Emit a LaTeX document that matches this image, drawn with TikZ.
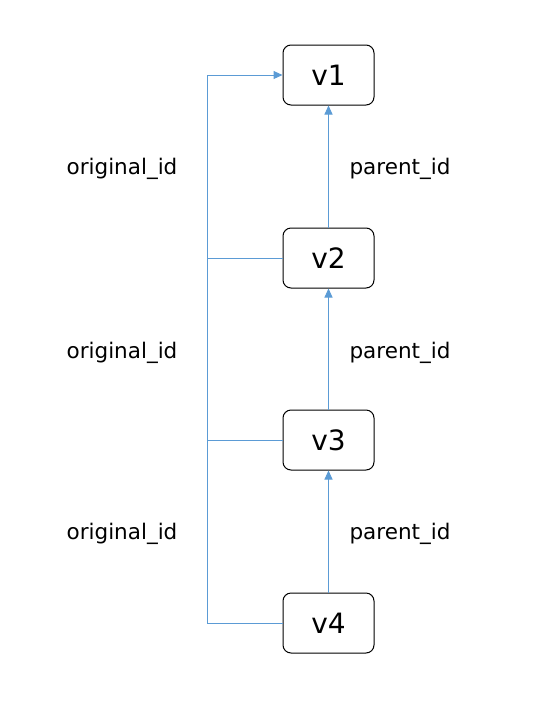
\documentclass[tikz,border=0pt]{standalone}
\usepackage{fontspec}
\setmainfont{DejaVu Sans}
\usetikzlibrary{arrows.meta, positioning}
\definecolor{linkblue}{RGB}{91,155,213}
\tikzset{
    vertex box/.style={
        draw,line width=1pt,rounded corners=8pt,
        minimum width=91pt,minimum height=60pt,
        inner sep=0pt,
        font=\fontsize{28}{30}\selectfont
    },
    id label/.style={
        font=\fontsize{21.5}{24}\selectfont
    },
    link/.style={linkblue,line width=1pt},
    >={Triangle[length=9pt,width=8pt]},
}

\begin{document}
\begin{tikzpicture}[x=1pt,y=-1pt]
                \useasboundingbox (0,0) rectangle (551,713);
                \foreach \i/\y in {1/75,2/258,3/440,4/623}
                \node[vertex box] (v\i) at (328.5,\y) {v\i};
                \foreach \i/\y in {1/169,2/353,3/534}
                {
                \node[id label] (orig\i) at (122,\y) {original\_id};
                \node[id label] (par\i) at (400,\y) {parent\_id};
                }
                \coordinate (trunk) at (207,75);
                \draw[link,->] (v4.west) -| (trunk) -- (v1.west);
                \draw[link] (v2.west) -- (v2.west -| trunk);
                \draw[link] (v3.west) -- (v3.west -| trunk);
                \draw[link,->] (v2) -- (v1);
                \draw[link,->] (v3) -- (v2);
                \draw[link,->] (v4) -- (v3);
            \end{tikzpicture}
\end{document}
